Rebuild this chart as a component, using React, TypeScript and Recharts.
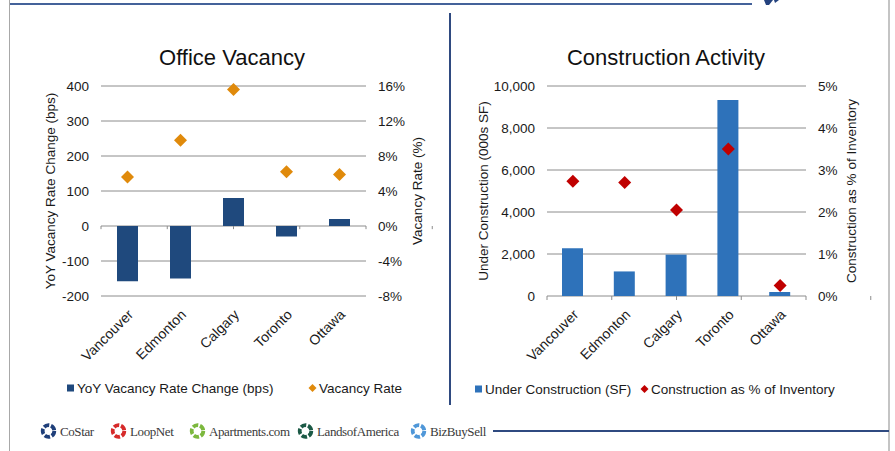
import {
  ComposedChart,
  Bar,
  Line,
  XAxis,
  YAxis,
  CartesianGrid,
  ReferenceLine,
} from "recharts";

const cities = ["Vancouver", "Edmonton", "Calgary", "Toronto", "Ottawa"];

// Office Vacancy
const yoyChangeBps = [-158, -150, 80, -30, 20];
const vacancyRatePct = [5.6, 9.8, 15.6, 6.2, 5.9];
const bpsTicks = [-200, -100, 0, 100, 200, 300, 400];
const vacancyTicks = [-8, -4, 0, 4, 8, 12, 16];

// Construction Activity
const underConstruction = [2270, 1170, 1970, 9330, 190];
const constructionPctInventory = [2.73, 2.7, 2.05, 3.5, 0.25];
const sfTicks = [0, 2000, 4000, 6000, 8000, 10000];
const pctTicks = [0, 1, 2, 3, 4, 5];

const boundaries = [0, 1, 2, 3, 4, 5];

const logos = [
  { name: "CoStar", color: "#1f3f7a", x: 40 },
  { name: "LoopNet", color: "#d62a2a", x: 110 },
  { name: "Apartments.com", color: "#7cb83e", x: 189 },
  { name: "LandsofAmerica", color: "#1c5a46", x: 297 },
  { name: "BizBuySell", color: "#4f97d8", x: 410 },
];

const officeData = cities.map((city, i) => ({
  city,
  change: yoyChangeBps[i],
  rate: vacancyRatePct[i],
}));

const constructionData = cities.map((city, i) => ({
  city,
  sf: underConstruction[i],
  pct: constructionPctInventory[i],
}));

const FONT = '"Liberation Sans", Arial, sans-serif';
const GRID = "#8c8c8c";
const tickStyle = { fontSize: 13.5, fill: "#1a1a1a", fontFamily: FONT };

function makeDiamond(color: string, r: number) {
  return (props: any) => {
    const { cx, cy, index } = props;
    if (cx == null || cy == null) return <g key={index} />;
    return (
      <polygon
        key={index}
        points={`${cx},${cy - r} ${cx + r},${cy} ${cx},${cy + r} ${cx - r},${cy}`}
        fill={color}
      />
    );
  };
}

function CityTick(props: any) {
  const { x, y, payload } = props;
  const ax = x + 3;
  const ay = y + 8;
  return (
    <text
      x={ax}
      y={ay}
      dy="0.35em"
      textAnchor="end"
      transform={`rotate(-45 ${ax} ${ay})`}
      style={{ ...tickStyle, fontSize: 14 }}
    >
      {payload.value}
    </text>
  );
}

function VText({ x, y, children }: { x: number; y: number; children: string }) {
  return (
    <div
      style={{
        position: "absolute",
        left: x,
        top: y,
        transform: "translate(-50%, -50%) rotate(-90deg)",
        whiteSpace: "nowrap",
        fontFamily: FONT,
        fontSize: 13.5,
        color: "#1a1a1a",
      }}
    >
      {children}
    </div>
  );
}

function Title({ x, y, children }: { x: number; y: number; children: string }) {
  return (
    <div
      style={{
        position: "absolute",
        left: x,
        top: y,
        transform: "translate(-50%, -50%)",
        whiteSpace: "nowrap",
        fontFamily: FONT,
        fontSize: 22,
        color: "#111",
      }}
    >
      {children}
    </div>
  );
}

function LegendItem({
  x,
  y,
  label,
  color,
  diamond,
}: {
  x: number;
  y: number;
  label: string;
  color: string;
  diamond?: boolean;
}) {
  return (
    <div
      style={{
        position: "absolute",
        left: x,
        top: y,
        transform: "translateY(-50%)",
        display: "flex",
        alignItems: "center",
        whiteSpace: "nowrap",
        fontFamily: FONT,
        fontSize: 13.5,
        color: "#1a1a1a",
      }}
    >
      <svg width={9} height={9} style={{ marginRight: 2 }}>
        {diamond ? (
          <polygon points="4.5,0.5 8.5,4.5 4.5,8.5 0.5,4.5" fill={color} />
        ) : (
          <rect x={1} y={1} width={7} height={7} fill={color} />
        )}
      </svg>
      {label}
    </div>
  );
}

function Logo({ name, color, x }: { name: string; color: string; x: number }) {
  return (
    <div
      style={{
        position: "absolute",
        left: x,
        top: 431,
        transform: "translateY(-50%)",
        display: "flex",
        alignItems: "center",
        whiteSpace: "nowrap",
      }}
    >
      <svg width={17} height={17} style={{ marginRight: 3 }}>
        <circle
          cx={8.5}
          cy={8.5}
          r={5.8}
          fill="none"
          stroke={color}
          strokeWidth={3.8}
          strokeDasharray="5.5 1.8"
        />
      </svg>
      <span
        style={{
          fontFamily: '"Liberation Serif", "Times New Roman", serif',
          fontSize: 13,
          letterSpacing: -0.4,
          color: "#3a3a3a",
        }}
      >
        {name}
      </span>
    </div>
  );
}

export default function App() {
  return (
    <div
      style={{
        position: "absolute",
        left: 0,
        top: 0,
        width: 895,
        height: 451,
        background: "#fff",
        overflow: "hidden",
      }}
    >
      {/* page frame */}
      <div style={{ position: "absolute", left: 10, top: 3, width: 742, height: 2, background: "#44629a" }} />
      <div style={{ position: "absolute", left: 9, top: 0, width: 1, height: 451, background: "#a8a8a8" }} />
      <div style={{ position: "absolute", left: 888, top: 0, width: 2, height: 451, background: "#c4c4c4" }} />
      <div style={{ position: "absolute", left: 449, top: 13, width: 2, height: 392, background: "#2f4a80" }} />
      <div style={{ position: "absolute", left: 493, top: 430, width: 396, height: 2, background: "#2f4a80" }} />
      <svg style={{ position: "absolute", left: 760, top: 0 }} width={30} height={8}>
        <polygon points="4,0 13,0 9,5 6,5" fill="#24427e" />
        <polygon points="14,0 19,0 15,3" fill="#24427e" />
      </svg>

      {/* Office Vacancy */}
      <Title x={232} y={58}>Office Vacancy</Title>
      <VText x={50} y={191}>YoY Vacancy Rate Change (bps)</VText>
      <VText x={417} y={191}>Vacancy Rate (%)</VText>
      <div style={{ position: "absolute", left: 0, top: 0 }}>
        <ComposedChart
          width={440}
          height={451}
          data={officeData}
          margin={{ top: 86, right: 14, bottom: 95, left: 41 }}
        >
          <CartesianGrid yAxisId="left" xAxisId="a" vertical={false} stroke={GRID} />
          <XAxis
            xAxisId="a"
            dataKey="city"
            axisLine={false}
            tickLine={false}
            interval={0}
            height={60}
            tick={<CityTick />}
          />
          <XAxis xAxisId="b" type="number" domain={[0, 5]} hide />
          <YAxis
            yAxisId="left"
            domain={[-200, 400]}
            ticks={bpsTicks}
            width={60}
            axisLine={false}
            tickLine={false}
            tickSize={0}
            tickMargin={12}
            tick={tickStyle}
          />
          <YAxis
            yAxisId="right"
            orientation="right"
            domain={[-8, 16]}
            ticks={vacancyTicks}
            width={60}
            axisLine={false}
            tickLine={false}
            tickSize={0}
            tickMargin={12}
            tick={{ ...tickStyle, textAnchor: "start" }}
            tickFormatter={(v: number) => `${v}%`}
          />
          {boundaries.map((b) => (
            <ReferenceLine
              key={b}
              xAxisId="b"
              yAxisId="left"
              ifOverflow="visible"
              segment={[
                { x: b, y: 0 },
                { x: b, y: -9 },
              ]}
              stroke={GRID}
            />
          ))}
          <Bar
            xAxisId="a"
            yAxisId="left"
            dataKey="change"
            fill="#1f497d"
            barSize={21}
            isAnimationActive={false}
          />
          <Line
            xAxisId="a"
            yAxisId="right"
            dataKey="rate"
            stroke="none"
            strokeWidth={0}
            dot={makeDiamond("#e08a0b", 6.5)}
            activeDot={false}
            isAnimationActive={false}
          />
        </ComposedChart>
      </div>
      <LegendItem x={66} y={388} label="YoY Vacancy Rate Change (bps)" color="#1f497d" />
      <LegendItem x={308} y={388} label="Vacancy Rate" color="#e08a0b" diamond />

      {/* Construction Activity */}
      <Title x={666} y={58}>Construction Activity</Title>
      <VText x={483} y={191}>Under Construction (000s SF)</VText>
      <VText x={851} y={191}>Construction as % of Inventory</VText>
      <div style={{ position: "absolute", left: 440, top: 0 }}>
        <ComposedChart
          width={455}
          height={451}
          data={constructionData}
          margin={{ top: 86, right: 29, bottom: 95, left: 47 }}
        >
          <CartesianGrid yAxisId="left" xAxisId="a" vertical={false} stroke={GRID} />
          <XAxis
            xAxisId="a"
            dataKey="city"
            axisLine={false}
            tickLine={false}
            interval={0}
            height={60}
            tick={<CityTick />}
          />
          <XAxis xAxisId="b" type="number" domain={[0, 5]} hide />
          <YAxis
            yAxisId="left"
            domain={[0, 10000]}
            ticks={sfTicks}
            width={60}
            axisLine={false}
            tickLine={false}
            tickSize={0}
            tickMargin={12}
            tick={tickStyle}
            tickFormatter={(v: number) => v.toLocaleString("en-US")}
          />
          <YAxis
            yAxisId="right"
            orientation="right"
            domain={[0, 5]}
            ticks={pctTicks}
            width={60}
            axisLine={false}
            tickLine={false}
            tickSize={0}
            tickMargin={12}
            tick={{ ...tickStyle, textAnchor: "start" }}
            tickFormatter={(v: number) => `${v}%`}
          />
          {boundaries.map((b) => (
            <ReferenceLine
              key={b}
              xAxisId="b"
              yAxisId="left"
              ifOverflow="visible"
              segment={[
                { x: b, y: 0 },
                { x: b, y: -190 },
              ]}
              stroke={GRID}
            />
          ))}
          <Bar
            xAxisId="a"
            yAxisId="left"
            dataKey="sf"
            fill="#2e72ba"
            barSize={21}
            isAnimationActive={false}
          />
          <Line
            xAxisId="a"
            yAxisId="right"
            dataKey="pct"
            stroke="none"
            strokeWidth={0}
            dot={makeDiamond("#c00000", 6.5)}
            activeDot={false}
            isAnimationActive={false}
          />
        </ComposedChart>
      </div>
      <LegendItem x={474} y={389} label="Under Construction (SF)" color="#2e72ba" />
      <LegendItem x={640} y={389} label="Construction as % of Inventory" color="#c00000" diamond />

      {/* footer logos */}
      {logos.map((l) => (
        <Logo key={l.name} name={l.name} color={l.color} x={l.x} />
      ))}
    </div>
  );
}
